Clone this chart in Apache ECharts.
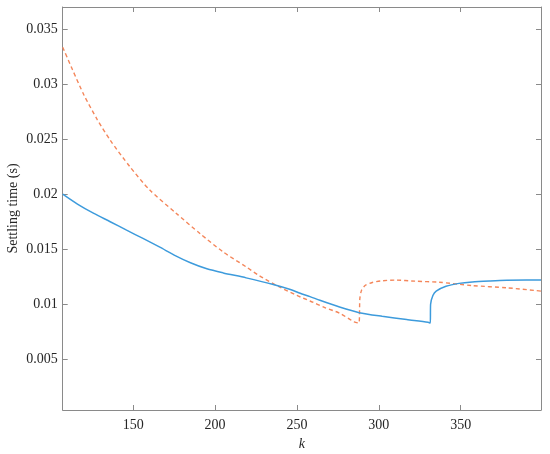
<!DOCTYPE html>
<html>
<head>
<meta charset="utf-8">
<script src="https://cdn.jsdelivr.net/npm/echarts@6/dist/echarts.min.js"></script>
<style>
  html, body { margin: 0; padding: 0; background: #fff; }
  #chart { width: 550px; height: 454px; }
</style>
</head>
<body>
<div id="chart"></div>
<script>
// solid blue curve
const kBlue = [107, 116, 126, 136, 146, 156, 166, 176, 185, 195, 205, 219, 235, 246, 252, 258, 264, 276, 288, 302, 317, 330, 331.4, 331.6, 333, 335, 341, 349, 357, 368, 378, 390, 399];
const yBlue = [0.0200, 0.0191, 0.01825, 0.0175, 0.01673, 0.01598, 0.01521, 0.0144, 0.01377, 0.01322, 0.01285, 0.0124, 0.01182, 0.01134, 0.01100, 0.0107, 0.01036, 0.00975, 0.00924, 0.00891, 0.00861, 0.00836, 0.0083, 0.0100, 0.0108, 0.0112, 0.01164, 0.0119, 0.01203, 0.01212, 0.01218, 0.0122, 0.0122];

// dashed orange curve
const kOrange = [107, 113, 120, 128, 136, 148, 160, 176, 191, 205, 219, 227, 239, 250, 258, 267, 276, 285, 287.8, 288.4, 289.5, 292, 296, 301, 310, 322, 337, 357, 378, 399];
const yOrange = [0.03335, 0.0313, 0.0290, 0.0268, 0.0249, 0.0225, 0.0204, 0.0183, 0.0164, 0.01475, 0.0134, 0.0126, 0.0116, 0.0108, 0.0103, 0.0097, 0.0092, 0.0084, 0.0083, 0.0105, 0.0113, 0.01175, 0.01198, 0.01212, 0.0122, 0.0121, 0.0120, 0.0117, 0.0115, 0.0112];

const xTicks = [150, 200, 250, 300, 350];
const yTicks = [0.005, 0.01, 0.015, 0.02, 0.025, 0.03, 0.035];

const font = "Liberation Serif";
const axisColor = "#8a8a8a";

const chart = echarts.init(document.getElementById("chart"));

const xBase = {
  type: "value",
  min: 107,
  max: 399,
  splitLine: { show: false },
  axisLine: { lineStyle: { color: axisColor, width: 1 } },
  axisTick: { inside: true, length: 5, customValues: xTicks, lineStyle: { color: axisColor } }
};
const yBase = {
  type: "value",
  min: 0.0004,
  max: 0.037,
  splitLine: { show: false },
  axisLine: { show: true, lineStyle: { color: axisColor, width: 1 } },
  axisTick: { show: true, inside: true, length: 5, customValues: yTicks, lineStyle: { color: axisColor } }
};

const option = {
  animation: false,
  grid: { left: 62.7, right: 9, top: 7, bottom: 44, containLabel: false, outerBoundsMode: "none" },
  xAxis: [
    Object.assign({}, xBase, {
      position: "bottom",
      name: "k",
      nameLocation: "middle",
      nameGap: 25,
      nameTextStyle: { fontFamily: font, fontSize: 14, fontStyle: "italic", color: "#262626" },
      axisLabel: { customValues: xTicks, fontFamily: font, fontSize: 14, color: "#262626", margin: 8 }
    }),
    Object.assign({}, xBase, { position: "top", axisLabel: { show: false } })
  ],
  yAxis: [
    Object.assign({}, yBase, {
      position: "left",
      name: "Settling time (s)",
      nameLocation: "middle",
      nameGap: 42,
      nameMoveOverlap: false,
      nameTextStyle: { fontFamily: font, fontSize: 14, color: "#262626" },
      axisLabel: {
        customValues: yTicks,
        fontFamily: font, fontSize: 14, color: "#262626", margin: 5,
        formatter: v => String(v)
      }
    }),
    Object.assign({}, yBase, { position: "right", axisLabel: { show: false } })
  ],
  series: [
    {
      type: "line",
      data: kOrange.map((k, i) => [k, yOrange[i]]),
      showSymbol: false,
      smooth: 0.25,
      lineStyle: { color: "#F4865A", width: 1.4, type: [4, 3] },
      z: 2
    },
    {
      type: "line",
      data: kBlue.map((k, i) => [k, yBlue[i]]),
      showSymbol: false,
      smooth: 0.25,
      lineStyle: { color: "#3D9BDC", width: 1.5 },
      z: 3
    }
  ]
};

chart.setOption(option);
</script>
</body>
</html>
